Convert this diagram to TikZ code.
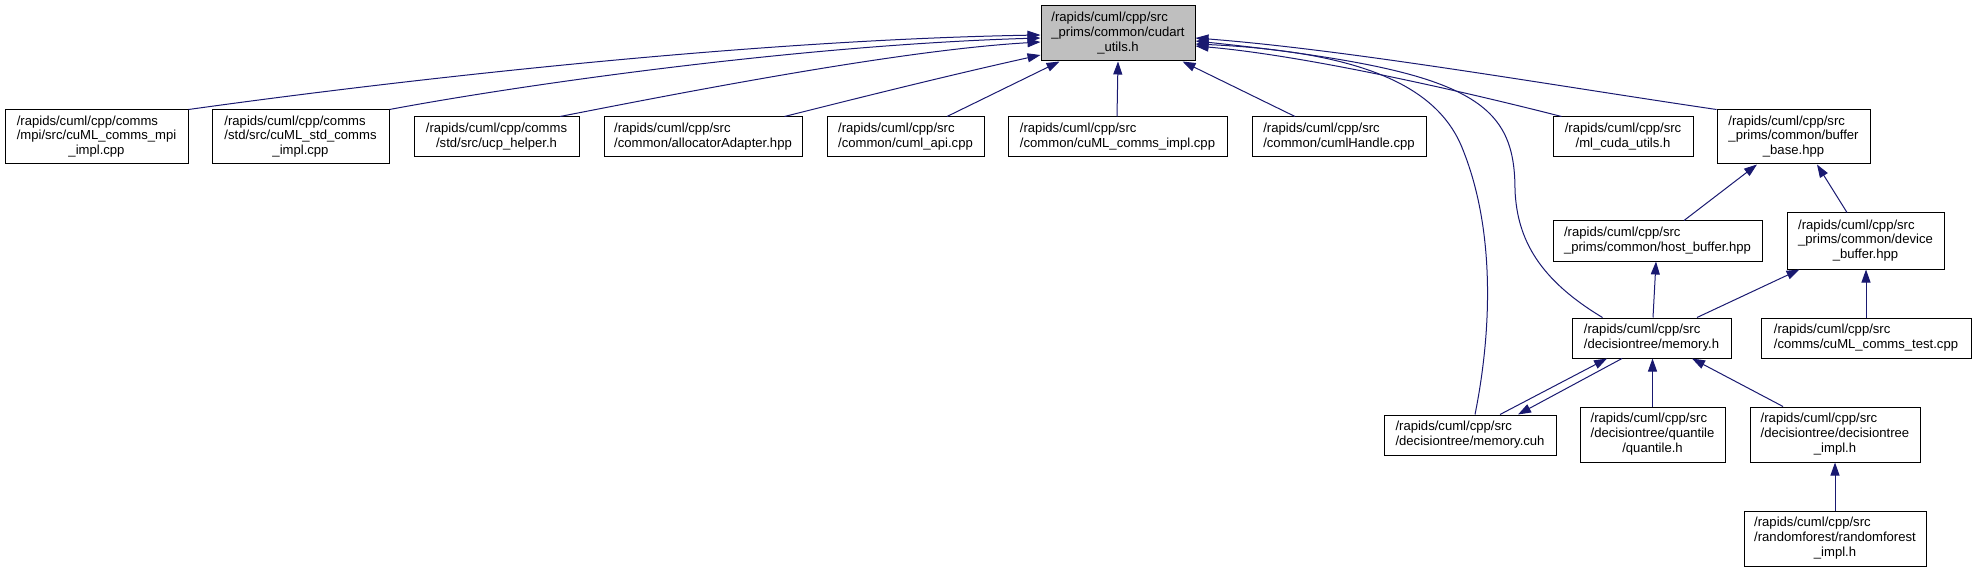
\documentclass[tikz,border=0pt]{standalone}
\usepackage{fontspec}
\setmainfont{Liberation Sans}
\usetikzlibrary{arrows.meta,calc}
\definecolor{edgec}{HTML}{191970}
\definecolor{rootfill}{HTML}{BFBFBF}
\newcommand{\fileLLC}[3]{\begin{tabular}{@{}l@{}}#1\\#2\\\multicolumn{1}{@{}c@{}}{#3}\end{tabular}}
\newcommand{\fileLL}[2]{\begin{tabular}{@{}l@{}}#1\\#2\end{tabular}}
\newcommand{\fileCC}[2]{\begin{tabular}{@{}c@{}}#1\\#2\end{tabular}}
\begin{document}
\begin{tikzpicture}[x=1pt,y=-1pt,
  file/.style={draw=black, line width=1pt, inner sep=0pt, fill=white,
    font=\fontsize{13.1}{14.7}\selectfont},
  link/.style={draw=edgec, line width=1pt, -{Triangle[length=13pt,width=9pt]}}]
\useasboundingbox (0,0) rectangle (1976,572);
% nodes
\node[file, fill=rootfill, minimum width=154pt, minimum height=55pt] (root) at (1118,33.5)
  {\fileLLC{/rapids/cuml/cpp/src}{\_prims/common/cudart}{\_utils.h}};
\node[file, minimum width=183pt, minimum height=54pt] (mpi) at (96.5,137)
  {\fileLLC{/rapids/cuml/cpp/comms}{/mpi/src/cuML\_comms\_mpi}{\_impl.cpp}};
\node[file, minimum width=177pt, minimum height=54pt] (stdc) at (300.5,137)
  {\fileLLC{/rapids/cuml/cpp/comms}{/std/src/cuML\_std\_comms}{\_impl.cpp}};
\node[file, minimum width=165pt, minimum height=40pt] (ucp) at (496.5,137)
  {\fileCC{/rapids/cuml/cpp/comms}{/std/src/ucp\_helper.h}};
\node[file, minimum width=198pt, minimum height=40pt] (alloc) at (703,137)
  {\fileLL{/rapids/cuml/cpp/src}{/common/allocatorAdapter.hpp}};
\node[file, minimum width=157pt, minimum height=40pt] (api) at (905.5,137)
  {\fileLL{/rapids/cuml/cpp/src}{/common/cuml\_api.cpp}};
\node[file, minimum width=219pt, minimum height=40pt] (cimpl) at (1117.5,137)
  {\fileLL{/rapids/cuml/cpp/src}{/common/cuML\_comms\_impl.cpp}};
\node[file, minimum width=174pt, minimum height=40pt] (handle) at (1339,137)
  {\fileLL{/rapids/cuml/cpp/src}{/common/cumlHandle.cpp}};
\node[file, minimum width=140pt, minimum height=40pt] (mlcuda) at (1623,137)
  {\fileCC{/rapids/cuml/cpp/src}{/ml\_cuda\_utils.h}};
\node[file, minimum width=153pt, minimum height=54pt] (bbase) at (1793.5,137)
  {\fileLLC{/rapids/cuml/cpp/src}{\_prims/common/buffer}{\_base.hpp}};
\node[file, minimum width=209pt, minimum height=40pt] (hbuf) at (1657.5,241)
  {\fileLL{/rapids/cuml/cpp/src}{\_prims/common/host\_buffer.hpp}};
\node[file, minimum width=157pt, minimum height=56pt] (dbuf) at (1865.5,241)
  {\fileLLC{/rapids/cuml/cpp/src}{\_prims/common/device}{\_buffer.hpp}};
\node[file, minimum width=159pt, minimum height=40pt] (memh) at (1651.5,338)
  {\fileLL{/rapids/cuml/cpp/src}{/decisiontree/memory.h}};
\node[file, minimum width=210pt, minimum height=40pt] (ctest) at (1866,338)
  {\fileLL{/rapids/cuml/cpp/src}{/comms/cuML\_comms\_test.cpp}};
\node[file, minimum width=172pt, minimum height=40pt] (mcuh) at (1470,435)
  {\fileLL{/rapids/cuml/cpp/src}{/decisiontree/memory.cuh}};
\node[file, minimum width=145pt, minimum height=55pt] (quant) at (1652.5,434.5)
  {\fileLLC{/rapids/cuml/cpp/src}{/decisiontree/quantile}{/quantile.h}};
\node[file, minimum width=170pt, minimum height=55pt] (dtimpl) at (1835,434.5)
  {\fileLLC{/rapids/cuml/cpp/src}{/decisiontree/decisiontree}{\_impl.h}};
\node[file, minimum width=182pt, minimum height=55pt] (rf) at (1835,538.5)
  {\fileLLC{/rapids/cuml/cpp/src}{/randomforest/randomforest}{\_impl.h}};
% edges into root, left side
\draw[link] (mpi.north east) .. controls (400,80) and (750,40) .. ($(root.west)+(0,1.5)$);
\draw[link] (stdc.north east) .. controls (520,85) and (800,45) .. ($(root.west)+(0,4.5)$);
\draw[link] ($(ucp.north)+(63.5,0)$) .. controls (680,93) and (900,50) .. ($(root.west)+(0,8.5)$);
\draw[link] ($(alloc.north east)+(-18,0)$) .. controls (850,100) and (950,75) .. ($(root.west)+(0,21.5)$);
% bottom
\draw[link] ($(api.north)+(41.5,0)$) -- ($(root.south west)+(19,0)$);
\draw[link] ($(cimpl.north)+(-0.5,0)$) -- (root.south);
\draw[link] ($(handle.north)+(-44,0)$) -- ($(root.south east)+(-13,0)$);
% right side
\draw[link] (bbase.north west) .. controls (1550,85) and (1350,50) .. ($(root.east)+(0,4.5)$);
\draw[link] ($(memh.north west)+(31,0)$) .. controls (1540,280) and (1517,240) .. (1515,190)
  .. controls (1515,100) and (1470,70) .. ($(root.east)+(0,7.5)$);
\draw[link] ($(mcuh.north)+(5,0)$) .. controls (1492,330) and (1495,230) .. (1463,150)
  .. controls (1440,90) and (1370,52) .. ($(root.east)+(0,10.5)$);
\draw[link] ($(mlcuda.north west)+(9,0)$) .. controls (1450,88) and (1300,55) .. ($(root.east)+(0,12.5)$);
% lower part
\draw[link] ($(hbuf.north)+(26.5,0)$) -- ($(bbase.south)+(-36.5,0)$);
\draw[link] ($(dbuf.north)+(-18.5,0)$) -- ($(bbase.south)+(23.5,0)$);
\draw[link] ($(memh.north)+(1.5,0)$) -- ($(hbuf.south)+(-1.5,0)$);
\draw[link] ($(memh.north)+(45.5,0)$) -- ($(dbuf.south west)+(13,0)$);
\draw[link] (ctest.north) -- (ctest.north |- dbuf.south);
\draw[link] ($(mcuh.north)+(30,0)$) -- ($(memh.south)+(-44.5,0)$);
\draw[link] ($(memh.south)+(-29.5,0)$) -- ($(mcuh.north)+(48,0)$);
\draw[link] (quant.north) -- (quant.north |- memh.south);
\draw[link] ($(dtimpl.north)+(-52,0)$) -- ($(memh.south)+(40.5,0)$);
\draw[link] (rf.north) -- (dtimpl.south);
\end{tikzpicture}
\end{document}
